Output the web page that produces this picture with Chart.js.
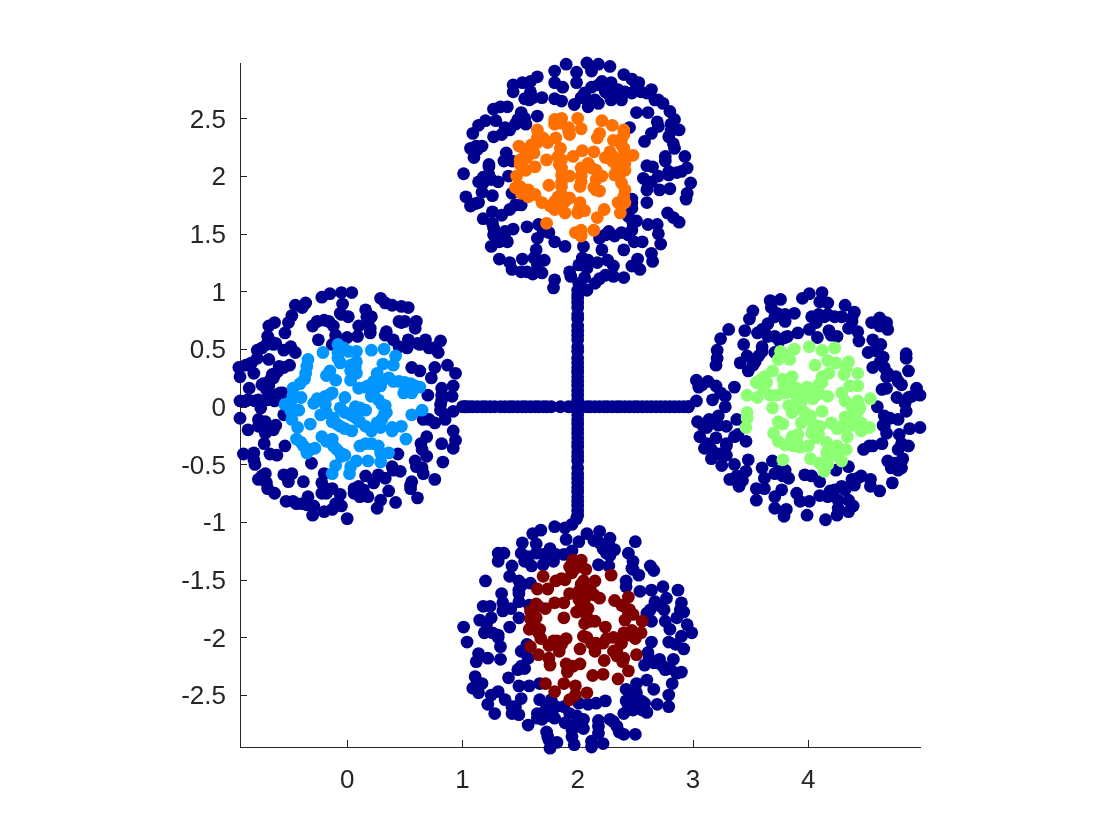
<!DOCTYPE html>
<html>
<head>
<meta charset="utf-8">
<script src="https://cdn.jsdelivr.net/npm/chart.js@4"></script>
<style>
body { margin:0; background:#fff; }
</style>
</head>
<body>
<canvas id="chartP" width="1120" height="840"></canvas>
<script>
var xTicks=[0,1,2,3,4];
var yTicks=[-2.5,-2,-1.5,-1,-0.5,0,0.5,1,1.5,2,2.5];
var xMin=-0.93, xMax=4.97;
var yMin=-2.95, yMax=2.98;

// the two arms of the cross
var armH=[[1.00,0],[1.03,0],[1.06,0],[1.09,0],[1.13,0],[1.17,0],[1.20,0],[1.24,0],[1.28,0],[1.33,0],[1.37,0],[1.41,0],[1.44,0],[1.48,0],[1.52,0],[1.55,0],[1.59,0],[1.63,0],[1.66,0],[1.70,0],[1.73,0],[1.77,0],[1.85,0],[1.92,0],[1.96,0],[2.00,0],[2.04,0],[2.08,0],[2.11,0],[2.15,0],[2.19,0],[2.23,0],[2.26,0],[2.30,0],[2.34,0],[2.37,0],[2.41,0],[2.45,0],[2.49,0],[2.52,0],[2.56,0],[2.60,0],[2.64,0],[2.68,0],[2.72,0],[2.76,0],[2.80,0],[2.84,0],[2.88,0],[2.92,0],[2.96,0]];
var armV=[[2,1.01],[2,0.97],[2,0.94],[2,0.90],[2,0.86],[2,0.80],[2,0.76],[2,0.70],[2,0.66],[2,0.62],[2,0.58],[2,0.52],[2,0.48],[2,0.42],[2,0.38],[2,0.34],[2,0.30],[2,0.26],[2,0.22],[2,0.18],[2,0.14],[2,0.10],[2,0.06],[2,0.02],[2,-0.03],[2,-0.07],[2,-0.11],[2,-0.15],[2,-0.19],[2,-0.23],[2,-0.27],[2,-0.31],[2,-0.35],[2,-0.39],[2,-0.43],[2,-0.47],[2,-0.53],[2,-0.58],[2,-0.62],[2,-0.66],[2,-0.70],[2,-0.74],[2,-0.78],[2,-0.82],[2,-0.86],[2,-0.90],[2,-0.94],[1.99,-0.97]];

var westRing=[[0.04,0.99],[-0.05,0.99],[-0.15,0.98],[-0.22,0.95],[-0.04,0.89],[-0.06,0.81],[0.01,0.78],[-0.36,0.90],[-0.45,0.88],[-0.39,0.86],[-0.48,0.79],[-0.51,0.73],[-0.54,0.64],[-0.63,0.73],[-0.68,0.70],[-0.69,0.61],[-0.62,0.55],[-0.70,0.54],[-0.78,0.49],[-0.55,0.49],[-0.49,0.52],[-0.45,0.47],[-0.68,0.41],[-0.88,0.36],[-0.94,0.34],[-0.93,0.26],[-0.81,0.29],[-0.83,0.38],[-0.78,0.42],[-0.50,0.36],[-0.55,0.34],[-0.60,0.31],[-0.64,0.25],[-0.73,0.20],[-0.68,0.18],[-0.85,0.16],[-0.56,0.12],[-0.62,0.10],[-0.68,0.10],[-0.77,0.06],[-0.93,0.05],[-0.86,0.06],[-0.63,0.05],[-0.75,-0.01],[-0.55,-0.07],[-0.93,-0.10],[-0.77,-0.11],[-0.86,-0.20],[-0.70,-0.16],[-0.62,-0.16],[-0.71,-0.23],[-0.72,-0.32],[-0.54,-0.34],[-0.90,-0.41],[-0.81,-0.40],[-0.67,-0.41],[-0.61,-0.42],[-0.80,-0.50],[-0.71,-0.58],[-0.77,-0.63],[-0.70,-0.66],[-0.63,-0.75],[-0.55,-0.59],[-0.48,-0.58],[-0.51,-0.65],[-0.38,-0.65],[-0.31,-0.49],[-0.53,-0.82],[-0.44,-0.84],[-0.34,-0.78],[-0.29,-0.86],[-0.30,-0.94],[-0.20,-0.91],[-0.13,-0.89],[-0.22,-0.75],[-0.22,-0.66],[-0.20,-0.58],[-0.13,-0.71],[-0.06,-0.76],[-0.05,-0.86],[0,-0.97],[0.06,-0.75],[0.10,-0.69],[0.16,-0.60],[0.18,-0.78],[0.23,-0.66],[0.33,-0.62],[0.39,-0.52],[0.46,-0.56],[0.44,-0.41],[0.29,-0.81],[0.26,-0.88],[0.36,-0.73],[0.42,-0.83],[0.56,-0.65],[0.55,-0.71],[0.61,-0.79],[0.76,-0.63],[0.59,-0.47],[0.66,-0.58],[0.83,-0.48],[0.69,-0.43],[0.64,-0.32],[0.69,-0.26],[0.82,-0.32],[0.92,-0.36],[0.94,-0.29],[0.92,-0.21],[0.85,-0.11],[0.92,-0.04],[0.76,-0.14],[0.66,-0.11],[0.81,-0.03],[1.02,0],[0.70,0.10],[0.82,0.16],[0.92,0.18],[0.91,0.09],[0.82,0.06],[0.73,0.25],[0.76,0.34],[0.94,0.29],[0.87,0.36],[0.63,0.31],[0.56,0.34],[0.79,0.47],[0.81,0.57],[0.68,0.58],[0.60,0.74],[0.59,0.68],[0.52,0.51],[0.71,0.51],[0.61,0.55],[0.45,0.74],[0.50,0.74],[0.53,0.86],[0.47,0.87],[0.39,0.88],[0.29,0.94],[0.33,0.90],[0.16,0.84],[0.21,0.78],[0.10,0.70],[0.20,0.64],[0.09,0.61],[0,0.60],[0.34,0.65],[0.40,0.58],[-0.13,0.54],[-0.25,0.58],[-0.30,0.70],[-0.20,0.75],[-0.12,0.70],[-0.10,0.62],[-0.59,0.35],[-0.65,0.28],[-0.74,0.19],[-0.70,0.15],[-0.58,0.12],[-0.67,0.23],[-0.62,0.29],[-0.69,0.19],[-0.69,0.06],[-0.88,0.05],[-0.80,0.05],[-0.77,-0.17],[-0.71,-0.13],[-0.64,-0.20],[-0.81,-0.46],[-0.69,-0.71],[-0.74,-0.60],[-0.47,-0.82],[-0.39,-0.84],[-0.35,-0.85],[-0.19,-0.71],[-0.18,-0.75],[-0.10,-0.84],[0.11,-0.78],[0.06,-0.71],[0.14,-0.72],[0.27,-0.59],[0.40,-0.55],[0.60,-0.52],[0.65,-0.53],[0.55,-0.68],[0.65,-0.37],[0.82,0.10],[0.81,0.02],[0.85,-0.07],[0.71,-0.11],[0.17,0.78],[0.18,0.73],[0.20,0.68],[0.33,0.62],[0.45,0.52],[0.53,0.58],[0.63,0.54],[0.75,0.51],[-0.68,0.59],[-0.64,0.54],[-0.74,0.51],[-0.26,0.74],[-0.16,0.74],[-0.05,0.80],[0.47,0.73]];
var westCore=[[-0.08,0.54],[-0.21,0.47],[-0.08,0.47],[0.08,0.48],[0.01,0.48],[0.21,0.49],[0.32,0.50],[0.42,0.44],[0.40,0.36],[0.31,0.37],[-0.34,0.41],[-0.35,0.35],[-0.06,0.38],[0.08,0.39],[0.03,0.31],[0.08,0.29],[-0.15,0.31],[-0.18,0.27],[-0.10,0.23],[0.03,0.23],[0.26,0.29],[-0.37,0.24],[-0.41,0.20],[-0.47,0.16],[0.36,0.25],[0.23,0.22],[0.45,0.22],[0.55,0.20],[0.63,0.17],[0.10,0.16],[0.18,0.18],[0.29,0.18],[0.49,0.12],[0.56,0.12],[0.21,0.09],[-0.13,0.12],[-0.19,0.09],[-0.02,0.08],[-0.26,0.07],[-0.40,0.08],[-0.48,0.06],[-0.29,0.03],[-0.54,0.02],[-0.19,0.02],[-0.06,-0.01],[0.07,0],[0.16,-0.03],[0.33,0.01],[0.34,-0.05],[-0.42,-0.03],[-0.49,-0.03],[0.27,0.06],[0.65,-0.03],[0.56,-0.07],[-0.18,-0.05],[0.03,-0.07],[0.30,-0.11],[-0.48,-0.11],[-0.32,-0.15],[-0.43,-0.18],[-0.13,-0.13],[0.11,-0.13],[-0.06,-0.17],[0.04,-0.21],[0.21,-0.21],[0.29,-0.18],[0.39,-0.21],[0.47,-0.17],[0.51,-0.28],[-0.22,-0.26],[-0.13,-0.28],[-0.44,-0.28],[-0.38,-0.34],[-0.28,-0.36],[-0.35,-0.40],[-0.12,-0.34],[-0.06,-0.40],[0.11,-0.34],[0.21,-0.32],[0.29,-0.40],[0.36,-0.40],[-0.02,-0.42],[0.08,-0.47],[0.18,-0.47],[0.29,-0.48],[-0.10,-0.51],[-0.13,-0.58],[0.03,-0.52],[0.02,-0.58],[-0.03,0.51],[-0.08,0.42],[0.07,0.34],[0.03,0.36],[0.16,0.17],[0.30,0.22],[0.40,0.22],[0.50,0.21],[0.59,0.18],[0.52,0.16],[0.23,0.13],[0.30,0.02],[0.32,-0.07],[0.26,-0.14],[-0.12,-0.10],[-0.09,-0.15],[-0.02,-0.19],[0.08,-0.10],[0.16,-0.17],[-0.18,-0.30],[-0.09,-0.37],[-0.05,-0.43],[-0.40,-0.31],[-0.32,-0.37],[-0.47,0.10],[-0.48,-0.05],[-0.36,0.29],[-0.23,-0.07],[-0.16,0.10],[0.11,-0.01],[-0.02,-0.05],[0.05,-0.08],[0.39,-0.18],[0.27,-0.34],[0.16,-0.32]];

var northRing=[[1.90,2.97],[2.08,2.98],[2.18,2.97],[2.28,2.95],[1.80,2.91],[1.99,2.90],[2.12,2.91],[2.40,2.88],[2.47,2.84],[2.53,2.81],[1.80,2.81],[1.99,2.81],[1.87,2.77],[2.18,2.79],[2.29,2.81],[1.65,2.86],[1.59,2.82],[1.52,2.81],[1.44,2.79],[1.44,2.73],[1.59,2.73],[1.69,2.68],[1.58,2.66],[1.80,2.67],[1.86,2.65],[1.97,2.62],[2.06,2.72],[2.09,2.60],[2.18,2.63],[2.29,2.66],[2.38,2.66],[2.35,2.75],[2.47,2.72],[2.64,2.75],[2.55,2.73],[2.67,2.66],[2.74,2.63],[2.80,2.56],[2.84,2.49],[2.51,2.55],[2.61,2.55],[2.69,2.47],[2.70,2.43],[2.88,2.40],[2.79,2.34],[2.84,2.24],[2.64,2.37],[2.58,2.30],[2.45,2.42],[2.93,2.17],[2.76,2.17],[2.76,2.13],[2.60,2.09],[2.65,2.08],[2.95,2.07],[2.86,2.03],[2.98,1.94],[2.79,2.04],[2.70,2.00],[2.57,1.98],[2.61,1.94],[2.71,1.88],[2.80,1.89],[2.95,1.85],[2.94,1.80],[2.60,1.88],[2.60,1.77],[2.47,1.80],[2.47,1.72],[2.44,1.65],[2.78,1.68],[2.83,1.64],[2.88,1.60],[2.51,1.61],[2.47,1.53],[2.61,1.58],[2.69,1.58],[2.70,1.50],[2.72,1.41],[2.56,1.43],[2.49,1.43],[2.38,1.51],[2.27,1.52],[2.19,1.46],[2.21,1.36],[2.40,1.36],[2.64,1.33],[2.65,1.26],[2.52,1.28],[2.47,1.22],[2.54,1.19],[2.26,1.27],[2.31,1.22],[2.17,1.25],[2.05,1.39],[2.04,1.29],[2.01,1.23],[2.08,1.20],[2.24,1.14],[2.40,1.12],[2.31,1.13],[2.15,1.07],[2.06,1.12],[2.01,1.01],[2.08,1.01],[1.93,1.17],[1.94,1.13],[1.80,1.10],[1.79,1.03],[1.69,1.16],[1.61,1.15],[1.51,1.17],[1.43,1.19],[1.41,1.25],[1.32,1.28],[1.52,1.28],[1.64,1.36],[1.62,1.29],[1.71,1.27],[1.89,1.39],[1.80,1.43],[1.65,1.46],[1.75,1.51],[1.66,1.58],[1.56,1.56],[1.44,1.54],[1.37,1.52],[1.39,1.43],[1.32,1.45],[1.25,1.39],[1.27,1.49],[1.26,1.59],[1.26,1.69],[1.18,1.63],[1.34,1.66],[1.41,1.71],[1.46,1.75],[1.51,1.75],[1.07,1.74],[1.14,1.77],[1.03,1.82],[1.17,1.86],[1.26,1.83],[1.43,1.85],[1.01,2.02],[1.14,1.95],[1.18,1.94],[1.31,1.95],[1.23,2.01],[1.40,2.00],[1.23,2.10],[1.36,2.13],[1.43,2.13],[1.38,2.20],[1.10,2.16],[1.07,2.24],[1.17,2.26],[1.13,2.23],[1.09,2.37],[1.14,2.44],[1.20,2.48],[1.29,2.48],[1.27,2.34],[1.34,2.36],[1.41,2.40],[1.27,2.58],[1.39,2.60],[1.33,2.60],[1.48,2.49],[1.51,2.55],[1.55,2.45],[1.65,2.52],[2.12,2.77],[2.21,2.82],[2.41,2.73],[2.24,2.73],[2.15,2.66],[2.60,2.72],[2.70,2.66],[2.81,2.45],[2.81,2.39],[2.83,2.28],[2.64,1.95],[2.79,2.01],[2.90,2.04],[2.47,1.77],[2.48,1.59],[2.44,1.49],[2.32,1.48],[2.24,1.49],[2.06,1.23],[2.09,1.27],[2.01,1.07],[2.19,1.11],[1.56,1.17],[1.65,1.27],[1.65,1.23],[1.70,1.52],[1.32,1.43],[1.37,1.46],[1.27,1.55],[1.11,1.76],[1.18,1.99],[1.25,1.97],[1.23,2.08],[1.12,2.26],[1.37,2.42],[1.46,2.45],[1.54,2.50],[1.54,2.67],[1.61,2.68],[2.09,2.66],[2.03,2.68],[2.32,2.72],[2.50,2.81],[2.27,2.71]];
var northCore=[[1.80,2.49],[1.86,2.50],[2.00,2.50],[2.21,2.48],[2.30,2.44],[2.40,2.40],[2.03,2.41],[1.92,2.42],[1.80,2.45],[1.65,2.40],[1.93,2.36],[2.19,2.37],[2.17,2.33],[2.31,2.31],[2.38,2.32],[1.65,2.33],[1.81,2.33],[1.74,2.29],[1.49,2.26],[1.60,2.27],[1.54,2.23],[1.85,2.24],[2.40,2.24],[2.04,2.22],[2.14,2.21],[2.28,2.21],[2.48,2.18],[2.40,2.17],[1.96,2.17],[1.56,2.16],[1.73,2.14],[1.86,2.14],[2.24,2.16],[2.30,2.13],[1.63,2.08],[2.09,2.11],[2.03,2.07],[2.12,2.07],[2.41,2.05],[2.34,2.07],[1.55,2.05],[1.86,2.07],[1.47,2.00],[1.86,2.01],[1.93,2.00],[2.21,2.00],[2.36,2.00],[2.16,1.97],[2.03,1.95],[1.86,1.95],[2.38,1.94],[1.75,1.92],[1.46,1.90],[2.02,1.91],[2.14,1.90],[2.19,1.87],[2.41,1.88],[1.57,1.88],[1.51,1.85],[1.63,1.84],[1.86,1.84],[1.80,1.78],[1.93,1.81],[2.02,1.77],[1.69,1.77],[2.35,1.77],[2.41,1.77],[1.80,1.71],[1.89,1.68],[2.00,1.68],[2.06,1.70],[2.23,1.71],[2.37,1.68],[2.17,1.64],[1.73,1.59],[2.03,1.53],[2.14,1.53],[1.98,1.51],[2.03,1.48],[2.40,2.36],[2.38,2.27],[2.35,2.11],[2.31,2.17],[2.41,2.11],[2.32,2.01],[1.50,2.14],[1.62,2.20],[1.65,2.29],[1.70,2.33],[1.84,2.10],[1.83,2.17],[1.86,1.91],[1.83,1.82],[1.76,1.74],[1.86,1.74],[1.89,1.78],[2.01,1.71],[2.40,1.82],[2.38,1.75],[2.08,2.08],[2.16,2.05],[1.50,1.91],[1.57,1.82],[2.16,1.88],[2.03,2.00],[1.92,2.39],[1.85,2.46],[1.56,2.21],[1.50,2.10]];

var eastRing=[[4.12,0.99],[4.01,0.98],[3.95,0.94],[4.10,0.91],[4.17,0.90],[3.67,0.92],[3.76,0.93],[3.68,0.86],[3.52,0.83],[3.49,0.76],[3.73,0.81],[3.80,0.80],[3.88,0.81],[3.80,0.74],[4.03,0.78],[4.09,0.80],[4.17,0.80],[4.32,0.88],[4.40,0.82],[4.29,0.78],[4.38,0.74],[4.55,0.73],[4.62,0.77],[4.68,0.73],[4.69,0.67],[4.62,0.70],[3.31,0.67],[3.45,0.66],[3.65,0.72],[3.62,0.65],[3.56,0.64],[3.71,0.61],[3.80,0.60],[3.91,0.64],[4.01,0.67],[4.07,0.73],[4.18,0.66],[4.08,0.60],[4.25,0.61],[4.35,0.68],[4.43,0.65],[4.44,0.57],[4.56,0.58],[4.63,0.54],[3.24,0.59],[3.44,0.54],[3.21,0.49],[3.20,0.36],[3.21,0.42],[3.60,0.52],[3.57,0.44],[3.47,0.44],[3.41,0.38],[3.52,0.36],[3.48,0.31],[3.71,0.47],[4.52,0.47],[4.65,0.43],[4.56,0.34],[4.85,0.46],[4.85,0.42],[4.66,0.34],[4.87,0.31],[4.76,0.26],[4.68,0.26],[4.81,0.19],[4.64,0.15],[4.68,0.16],[4.94,0.16],[4.97,0.10],[4.90,0.09],[4.77,0.08],[4.84,0.03],[4.60,0],[4.85,-0.04],[4.78,-0.11],[4.66,-0.08],[4.65,-0.16],[4.97,-0.18],[4.88,-0.19],[4.79,-0.24],[4.68,-0.23],[4.64,-0.32],[4.56,-0.34],[4.48,-0.37],[4.87,-0.34],[4.78,-0.37],[4.82,-0.45],[4.69,-0.47],[4.72,-0.53],[4.81,-0.53],[4.73,-0.66],[4.62,-0.73],[4.54,-0.69],[4.54,-0.63],[4.46,-0.60],[4.35,-0.52],[4.38,-0.63],[4.29,-0.69],[4.24,-0.55],[4.10,-0.65],[4.19,-0.73],[4.10,-0.77],[4.35,-0.81],[4.39,-0.86],[4.26,-0.88],[4.35,-0.91],[4.25,-0.94],[4.15,-0.98],[3.99,-0.94],[4.01,-0.82],[3.90,-0.75],[3.93,-0.82],[3.79,-0.95],[3.81,-0.89],[3.71,-0.88],[3.71,-0.78],[3.77,-0.72],[3.55,-0.81],[3.55,-0.71],[3.62,-0.71],[3.62,-0.62],[3.60,-0.53],[3.48,-0.46],[3.69,-0.47],[3.74,-0.56],[3.80,-0.55],[3.83,-0.62],[3.97,-0.59],[4.03,-0.60],[3.32,-0.63],[3.36,-0.50],[3.38,-0.60],[3.40,-0.69],[3.46,-0.56],[3.25,-0.51],[3.16,-0.45],[3.22,-0.41],[3.29,-0.42],[3.10,-0.36],[3.29,-0.32],[3.46,-0.30],[3.39,-0.24],[3.06,-0.26],[3.12,-0.18],[3.20,-0.27],[3.04,-0.13],[3.14,-0.11],[3.22,-0.08],[3.29,-0.17],[3.38,-0.11],[2.96,0],[3.03,0.05],[3.28,0],[3.17,0.06],[3.28,0.09],[3.36,0.17],[3.20,0.18],[3.13,0.22],[3.05,0.17],[3.03,0.23],[3.60,0.67],[3.65,0.61],[3.75,0.57],[3.82,0.61],[3.71,0.78],[4.14,0.78],[4.23,0.78],[4.38,0.77],[4.59,0.54],[4.60,0.48],[4.62,0.38],[4.69,0.29],[4.78,0.22],[4.87,0.08],[4.66,-0.17],[4.71,-0.10],[4.53,-0.34],[4.81,-0.32],[4.75,-0.49],[4.78,-0.55],[4.81,-0.47],[4.43,-0.62],[4.40,-0.68],[4.23,-0.72],[4.17,-0.78],[4.26,-0.81],[4.32,-0.72],[3.78,-0.60],[3.71,-0.58],[3.36,-0.63],[3.43,-0.64],[3.16,-0.37],[3.12,-0.32],[3.09,-0.17],[3.16,-0.13],[3.22,-0.16],[3.36,-0.26],[3.29,-0.34],[3.08,0.19],[3.24,0.12],[3.54,0.39],[3.60,0.48],[4.20,0.62]];
var eastCore=[[4.01,0.52],[4.12,0.49],[4.23,0.51],[3.88,0.50],[3.83,0.45],[3.74,0.41],[3.84,0.41],[4.17,0.40],[4.24,0.38],[4.35,0.39],[4.06,0.36],[4.33,0.34],[4.43,0.29],[4.31,0.28],[3.69,0.31],[3.62,0.26],[4.18,0.29],[4.12,0.26],[3.86,0.26],[3.78,0.24],[3.55,0.21],[3.64,0.21],[4.09,0.19],[3.79,0.18],[3.90,0.16],[3.99,0.17],[4.43,0.18],[4.36,0.18],[4.29,0.12],[4.07,0.10],[4.17,0.09],[3.47,0.10],[3.56,0.08],[3.67,0.10],[3.73,0.10],[3.80,0.12],[3.90,0.09],[3.97,0.10],[4.04,0.07],[4.32,0.05],[4.43,0.05],[4.54,0.07],[3.83,0.01],[3.94,0.04],[3.69,-0.01],[3.90,-0.01],[4.45,-0.01],[3.47,-0.05],[3.86,-0.05],[4.12,-0.04],[4.02,-0.08],[4.32,-0.09],[4.40,-0.08],[3.47,-0.10],[3.94,-0.14],[3.74,-0.13],[3.78,-0.15],[4.20,-0.14],[4.10,-0.17],[3.46,-0.18],[4.38,-0.16],[4.46,-0.21],[4.53,-0.18],[4.03,-0.23],[4.25,-0.19],[4.34,-0.26],[3.70,-0.23],[3.91,-0.24],[3.86,-0.26],[3.74,-0.30],[4.07,-0.27],[4.16,-0.31],[3.87,-0.34],[3.93,-0.35],[4.00,-0.34],[4.33,-0.37],[4.16,-0.40],[4.25,-0.34],[4.23,-0.42],[4.02,-0.45],[3.78,-0.46],[4.29,-0.47],[4.10,-0.49],[4.17,-0.50],[4.14,-0.56],[3.76,0.48],[3.83,0.22],[3.88,0.12],[3.93,0.13],[4.09,0.12],[4.12,0.21],[4.38,0],[4.43,-0.04],[4.40,-0.14],[4.46,-0.14],[3.97,-0.05],[3.97,-0.11],[4.06,-0.16],[4.04,-0.20],[4.09,-0.24],[3.80,-0.33],[3.90,-0.30],[4.20,-0.40],[4.27,-0.39],[3.58,0.23],[3.61,0.16],[3.86,0.18],[4.29,-0.17],[4.35,-0.11],[3.93,-0.01]];

var southRing=[[1.80,-1.04],[1.95,-1.02],[1.89,-1.05],[1.68,-1.07],[1.61,-1.10],[2.08,-1.10],[2.19,-1.08],[1.90,-1.15],[2.01,-1.17],[2.28,-1.14],[2.50,-1.17],[2.14,-1.16],[1.64,-1.19],[1.52,-1.18],[1.76,-1.23],[1.95,-1.25],[2.22,-1.23],[2.32,-1.24],[2.44,-1.27],[1.31,-1.27],[1.36,-1.27],[1.31,-1.34],[1.51,-1.27],[1.64,-1.27],[1.88,-1.28],[2.28,-1.29],[1.43,-1.38],[1.54,-1.34],[1.60,-1.38],[1.70,-1.37],[1.79,-1.34],[2.18,-1.37],[2.27,-1.38],[2.48,-1.34],[2.48,-1.41],[2.63,-1.38],[2.66,-1.42],[2.53,-1.46],[1.41,-1.47],[1.20,-1.51],[1.49,-1.51],[1.59,-1.53],[2.42,-1.51],[2.42,-1.56],[2.54,-1.60],[2.64,-1.59],[2.74,-1.56],[2.87,-1.59],[1.34,-1.62],[1.49,-1.62],[2.67,-1.69],[2.77,-1.66],[2.90,-1.70],[1.49,-1.69],[1.58,-1.72],[1.18,-1.73],[1.24,-1.73],[1.35,-1.70],[1.35,-1.77],[1.42,-1.75],[2.92,-1.78],[2.75,-1.76],[2.60,-1.79],[2.64,-1.86],[1.49,-1.83],[1.15,-1.85],[1.25,-1.83],[1.21,-1.88],[2.76,-1.86],[2.86,-1.83],[2.95,-1.89],[2.80,-1.93],[1.01,-1.91],[1.41,-1.91],[1.19,-1.96],[1.31,-1.98],[2.99,-1.96],[2.90,-1.99],[1.04,-2.04],[1.33,-2.08],[2.64,-2.04],[2.79,-2.04],[2.85,-2.06],[2.92,-2.10],[1.56,-2.06],[1.51,-2.12],[1.14,-2.14],[1.22,-2.18],[1.12,-2.21],[1.33,-2.19],[1.57,-2.18],[2.61,-2.13],[2.58,-2.24],[2.71,-2.19],[2.83,-2.19],[2.66,-2.22],[2.76,-2.28],[2.90,-2.30],[1.54,-2.27],[1.48,-2.28],[1.40,-2.35],[1.11,-2.34],[1.17,-2.40],[1.09,-2.44],[1.14,-2.48],[1.49,-2.42],[1.58,-2.42],[1.67,-2.40],[2.82,-2.40],[2.60,-2.37],[2.51,-2.40],[2.66,-2.45],[2.42,-2.45],[2.51,-2.48],[1.31,-2.47],[1.25,-2.50],[2.79,-2.50],[1.22,-2.58],[1.37,-2.54],[1.51,-2.53],[1.67,-2.54],[1.77,-2.54],[1.43,-2.60],[1.28,-2.66],[1.43,-2.66],[1.49,-2.67],[2.79,-2.60],[2.69,-2.58],[2.58,-2.57],[2.60,-2.65],[2.48,-2.63],[2.40,-2.66],[2.42,-2.55],[2.24,-2.55],[2.16,-2.57],[2.01,-2.57],[2.09,-2.58],[1.88,-2.60],[1.65,-2.66],[1.73,-2.63],[1.80,-2.70],[1.69,-2.71],[1.57,-2.76],[1.89,-2.74],[1.99,-2.68],[2.18,-2.72],[2.28,-2.71],[2.05,-2.79],[1.96,-2.77],[2.36,-2.82],[2.50,-2.84],[2.40,-2.84],[1.73,-2.82],[2.18,-2.83],[1.95,-2.86],[1.75,-2.89],[1.82,-2.91],[1.76,-2.96],[1.97,-2.93],[2.12,-2.90],[2.12,-2.95],[2.22,-2.92],[1.57,-1.30],[1.70,-1.28],[1.81,-1.28],[1.76,-1.31],[1.49,-1.59],[1.52,-1.54],[1.31,-2.00],[1.26,-1.96],[1.20,-1.95],[1.51,-2.25],[2.69,-2.22],[2.74,-2.25],[2.62,-2.18],[2.80,-2.27],[2.86,-2.31],[2.72,-1.73],[2.89,-1.76],[2.63,-1.76],[2.47,-2.54],[2.44,-2.60],[2.56,-2.63],[2.55,-2.55],[1.73,-2.60],[1.81,-2.60],[1.69,-2.66],[1.76,-2.68],[1.65,-2.70],[1.93,-2.66],[2.05,-2.71],[2.01,-2.77],[1.46,-2.60],[2.27,-1.20],[2.19,-1.18],[2.25,-1.27],[2.34,-2.77],[2.31,-2.73],[1.95,-2.80],[2.18,-2.77],[1.74,-2.86],[2.47,-1.40]];
var southCore=[[1.96,-1.33],[2.03,-1.33],[1.93,-1.39],[2.07,-1.41],[1.95,-1.44],[2.29,-1.46],[1.70,-1.47],[1.81,-1.51],[1.89,-1.50],[2.05,-1.51],[2.15,-1.51],[1.65,-1.58],[1.74,-1.58],[2.11,-1.59],[1.93,-1.62],[2.01,-1.60],[2.14,-1.63],[2.44,-1.65],[2.19,-1.66],[2.06,-1.67],[2.32,-1.68],[1.80,-1.70],[1.88,-1.70],[1.64,-1.71],[1.72,-1.75],[2.38,-1.72],[2.09,-1.75],[2.45,-1.76],[1.99,-1.78],[1.59,-1.77],[2.48,-1.80],[2.41,-1.85],[2.08,-1.82],[1.88,-1.83],[1.64,-1.83],[2.56,-1.86],[2.06,-1.88],[2.15,-1.86],[1.62,-1.90],[1.58,-1.93],[2.24,-1.91],[1.67,-1.93],[2.47,-1.94],[2.40,-1.96],[2.55,-1.96],[2.05,-1.99],[1.68,-2.01],[1.90,-2.01],[2.31,-2.00],[2.50,-2.01],[2.08,-2.00],[2.38,-2.05],[1.79,-2.03],[2.16,-2.05],[2.22,-2.05],[1.86,-2.06],[1.75,-2.07],[2.02,-2.10],[2.15,-2.12],[1.84,-2.12],[1.59,-2.08],[2.31,-2.12],[1.66,-2.15],[2.34,-2.16],[2.51,-2.15],[1.75,-2.18],[2.39,-2.21],[2.23,-2.20],[1.76,-2.24],[2.02,-2.23],[1.90,-2.23],[1.96,-2.25],[2.44,-2.29],[1.91,-2.30],[2.13,-2.33],[2.22,-2.32],[2.35,-2.36],[1.72,-2.40],[1.88,-2.40],[1.98,-2.42],[1.80,-2.47],[2.08,-2.48],[1.98,-2.50],[1.93,-2.54],[2.03,-1.54],[2.01,-1.67],[2.03,-1.73],[2.11,-1.86],[2.40,-1.73],[2.44,-1.80],[2.37,-2.01],[2.25,-2.01],[2.12,-2.05],[2.44,-1.98],[2.34,-2.11],[2.40,-2.18],[1.82,-2.03],[1.93,-2.25],[1.59,-1.84],[1.66,-1.96],[1.66,-1.73],[1.86,-1.49],[1.98,-1.40],[1.95,-1.36]];

function toPoints(list) {
    return list.map(function(p) { return {x:p[0], y:p[1]}; });
}
function coreSet(list, color) {
    return { data:toPoints(list), backgroundColor:color, pointRadius:6.4, pointBorderWidth:0, pointHoverRadius:6.4, clip:false, order:1 };
}

// matlab style ticks, pointing into the axes
var inwardTicks = {
    id:'inwardTicks',
    beforeDatasetsDraw:function(chart) {
        var c=chart.ctx, sx=chart.scales.x, sy=chart.scales.y;
        c.save();
        c.strokeStyle='#262626';
        c.lineWidth=1;
        c.beginPath();
        xTicks.forEach(function(v) {
            var px=Math.round(sx.getPixelForValue(v))+0.5;
            c.moveTo(px,chart.chartArea.bottom);
            c.lineTo(px,chart.chartArea.bottom-7);
        });
        yTicks.forEach(function(v) {
            var py=Math.round(sy.getPixelForValue(v))+0.5;
            c.moveTo(chart.chartArea.left,py);
            c.lineTo(chart.chartArea.left+7,py);
        });
        c.stroke();
        c.restore();
    }
};

var ringPts=[].concat(armH, armV, westRing, northRing, eastRing, southRing);
var ctx = document.getElementById( "chartP" );
var chartP = new Chart(ctx, {
    type: "scatter",
    data: {
        datasets: [
            coreSet(westCore, '#0095FF'),
            coreSet(northCore, '#FF7000'),
            coreSet(eastCore, '#8CFF73'),
            coreSet(southCore, '#800000'),
            { data:toPoints(ringPts), backgroundColor:'#00008F', pointRadius:6.4, pointBorderWidth:0, pointHoverRadius:6.4, clip:false, order:2 }
        ],
    },
    plugins:[inwardTicks],
    options: {
        responsive:false,
        animation:false,
        events:[],
        layout: { padding:{ top:63, right:200, left:0, bottom:0 } },
        plugins: { legend:{display:false}, tooltip:{enabled:false}, title:{display:false} },
        scales: {
            x: {
                type:'linear', min:xMin, max:xMax,
                afterBuildTicks:function(s){ s.ticks=xTicks.map(function(v){return {value:v};}); },
                afterFit:function(s){ s.height=93; },
                grid:{ drawOnChartArea:false, drawTicks:false },
                border:{ color:'#262626', width:1 },
                ticks:{ color:'#262626', font:{family:'"Liberation Sans"', size:26}, padding:18, maxRotation:0, autoSkip:false, callback:function(v){return String(v);} }
            },
            y: {
                type:'linear', min:yMin, max:yMax,
                afterBuildTicks:function(s){ s.ticks=yTicks.map(function(v){return {value:v};}); },
                afterFit:function(s){ s.width=240; },
                grid:{ drawOnChartArea:false, drawTicks:false },
                border:{ color:'#262626', width:1 },
                ticks:{ color:'#262626', font:{family:'"Liberation Sans"', size:26}, padding:14, labelOffset:2, autoSkip:false, callback:function(v){return String(v);} }
            }
        }
    }
});
</script>
</body>
</html>
